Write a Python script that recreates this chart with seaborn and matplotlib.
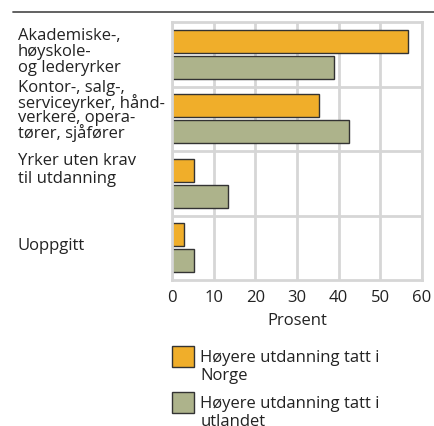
import pandas as pd
import matplotlib.pyplot as plt
import seaborn as sns
from matplotlib.patches import Patch, Rectangle
from matplotlib.lines import Line2D
from matplotlib.legend_handler import HandlerPatch
from matplotlib.transforms import blended_transform_factory, ScaledTranslation

categories = ["Akademiske-,\nhøyskole-\nog lederyrker",
              "Kontor-, salg-,\nserviceyrker, hånd-\nverkere, opera-\ntører, sjåfører",
              "Yrker uten krav\ntil utdanning",
              "Uoppgitt"]
groups = ["Høyere utdanning tatt i\nNorge", "Høyere utdanning tatt i\nutlandet"]
norge = [56.7, 35.3, 5.2, 3.0]
utlandet = [38.9, 42.6, 13.4, 5.4]
xticks = [0, 10, 20, 30, 40, 50, 60]

colors = ["#F0AE2A", "#ADB38B"]
grid_col = "#D6D6D6"

# label placement: last baseline offset (px below category centre) and line spacing
label_off = [18.2, 19.5, 0.1, 2.2]
label_ls = [1.0, 0.85, 1.18, 1.0]

df = pd.DataFrame({
    "kategori": categories * 2,
    "prosent": norge + utlandet,
    "gruppe": [groups[0]] * 4 + [groups[1]] * 4,
})

sns.set_style("white")
plt.rcParams['font.family'] = ['Open Sans', 'DejaVu Sans']
plt.rcParams['font.size'] = 12
plt.rcParams['text.color'] = '#222222'

fig = plt.figure(figsize=(4.35, 4.26), dpi=100)
ax = fig.add_axes([172 / 435, 1 - 280 / 426, 250 / 435, 258 / 426])

sns.barplot(data=df, y="kategori", x="prosent", hue="gruppe", orient="h",
            palette=colors, saturation=1, width=0.8, gap=0.1,
            edgecolor="#333333", linewidth=1, ax=ax)
ax.legend_.remove()

ax.set_xlim(0, 60)
ax.set_xticks(xticks)
ax.set_axisbelow(True)
ax.xaxis.grid(True, color=grid_col, lw=2)
ax.set_yticks([0.5, 1.5, 2.5], minor=True)
ax.yaxis.grid(True, which="minor", color=grid_col, lw=2)
for s in ax.spines.values():
    s.set_color(grid_col)
    s.set_linewidth(2)

ax.set_ylabel("")
ax.set_xlabel("Prosent", labelpad=5.2, color="#222222")
ax.tick_params(axis="x", length=0, pad=7, labelcolor="#222222")
ax.tick_params(axis="y", which="both", length=0, labelleft=False)

# left-aligned category labels
base = blended_transform_factory(fig.transFigure, ax.transData)
for i, cat in enumerate(categories):
    tr = base + ScaledTranslation(0, -label_off[i] / 100, fig.dpi_scale_trans)
    ax.text(18 / 435, i, cat, transform=tr, ha="left", va="baseline",
            linespacing=label_ls[i])

# top rule under the (cut off) title
fig.add_artist(Line2D([13 / 435, 1], [1 - 12 / 426] * 2, color="#555555", lw=1.3))


def square(legend, orig_handle, xdescent, ydescent, width, height, fontsize):
    # lift the swatch so it sits level with the first text line
    return Rectangle((-xdescent, -ydescent + 7.9), width, height)


handles = [Patch(facecolor=c, edgecolor="#333333", lw=1) for c in colors]
leg = fig.legend(handles, groups, loc="upper left",
                 bbox_to_anchor=(172 / 435, 1 - 349.7 / 426), frameon=False,
                 borderpad=0, handlelength=1.3, handleheight=1.56,
                 handletextpad=0.4, labelspacing=0.73, borderaxespad=0,
                 handler_map={Patch: HandlerPatch(patch_func=square)})
for t in leg.get_texts():
    t.set_linespacing(1.18)

fig.savefig("out.png", dpi=100)
